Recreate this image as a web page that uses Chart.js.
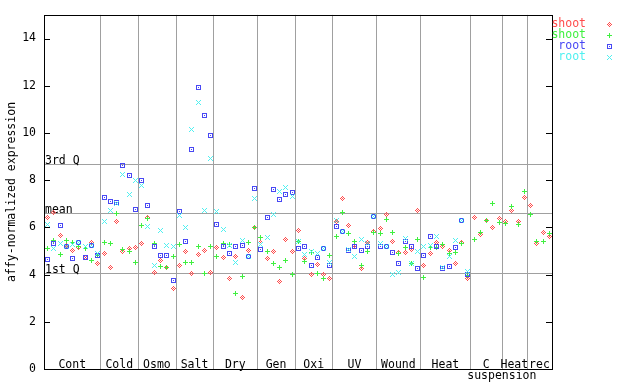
<!DOCTYPE html>
<html>
<head>
<meta charset="utf-8">
<script src="https://cdn.jsdelivr.net/npm/chart.js@4/dist/chart.umd.min.js"></script>
<style>
  html, body { margin:0; padding:0; background:#fff; }
  #wrap { width:640px; height:384px; }
</style>
</head>
<body>
<div id="wrap"><canvas id="c" width="640" height="384"></canvas></div>
<script>
(function () {
  'use strict';
  const FONT = '"DejaVu Sans Mono", monospace';
  const FSIZE = 11.5;

  // x groups (samples per group, left to right)
  const groupNames = ['Cont', 'Cold', 'Osmo', 'Salt', 'Dry', 'Gen', 'Oxi', 'UV', 'Wound', 'Heat', 'C', 'Heat', 'rec'];
  const groupSizes = [9, 6, 6, 6, 7, 6, 6, 7, 7, 8, 5, 4, 4];
  const yTicks = [0, 2, 4, 6, 8, 10, 12, 14];
  const refValues = [8.68, 6.60, 4.07];
  const refLabels = ['3rd Q', 'mean', '1st Q'];
  const seriesNames = ['shoot', 'shoot', 'root', 'root'];
  const seriesColors = ['#ff4c4c', '#40f040', '#4848f4', '#50f0f0'];

  // one value per sample, null = not measured
  const shootA = [
    6.44, 6.63, 5.66, 5.25, 5.03, 5.15, 4.75, 5.39, 4.48,
    4.90, 4.31, 6.25, 5.00, 5.11, 5.15,
    5.34, 6.45, 4.10, 4.62, 4.32, 3.45,
    4.41, 5.00, 4.05, 4.87, 5.04, 4.10,
    5.17, 4.75, 3.86, 4.80, 3.06, 5.05, 6.01,
    5.40, 4.71, 5.00, 3.74, 5.52, 5.00,
    5.89, 4.71, 4.03, 4.45, 4.03, 3.86,
    6.28, 7.23, 6.10, 5.25, 4.29, 5.36, 5.84,
    5.98, 6.56, 5.43, 4.95, 4.97, 5.08, 6.73,
    4.41, 4.93, 5.38, 5.20, 5.04, 4.49, 5.39, 3.86,
    6.45, 5.70, 6.30, 6.02, 6.40,
    6.26, 6.73, 6.28, 7.30,
    6.94, 5.34, 5.80, 5.63
  ];
  const shootB = [
    5.11, 5.48, 4.88, 5.48, 5.36, 5.20, 5.11, 4.60, 4.82,
    5.37, 5.34, 6.60, 5.07, 5.00, 4.54,
    6.08, 6.38, 5.34, 4.38, 4.31, 4.80,
    5.30, 4.55, 4.55, 5.22, 4.07, 5.20,
    4.79, 5.34, 5.30, 3.23, 3.96, 5.38, 6.00,
    5.60, 4.98, 4.49, 4.33, 4.62, 4.03,
    5.44, 4.59, 4.94, 4.07, 3.86, 4.85,
    5.63, 6.63, 5.75, 5.42, 4.41, 5.00, 5.80,
    5.75, 6.35, 5.81, 4.92, 5.18, 4.50, 5.50,
    3.90, 5.15, 5.15, 5.30, 4.90, 4.96, 5.33, 4.00,
    5.51, 5.82, 6.30, 7.02, 6.22,
    6.19, 6.90, 6.13, 7.54,
    6.56, 5.42, 5.42, 5.76
  ];
  const rootA = [
    4.65, 5.32, 6.08, 5.22, 4.71, 5.39, 4.73, 5.27, 4.85,
    7.27, 7.10, 7.08, 8.66, 8.20, 6.76,
    8.00, 6.95, 5.19, 4.81, 4.81, 3.79,
    6.70, 5.42, 9.34, 11.95, 10.77, 9.93,
    6.14, 5.21, 4.92, 5.21, 5.26, 4.80, 7.66,
    5.08, 6.43, 7.61, 7.19, 7.40, 7.50,
    5.13, 5.21, 4.41, 4.73, 5.11, 4.41,
    6.06, 5.85, 5.03, 5.21, 5.04, 5.22, 6.47,
    5.21, 5.22, 4.97, 4.49, 5.43, 5.21, 4.28,
    4.84, 5.63, 5.21, 4.26, 4.37, 5.17, 6.30, 4.03,
    null, null, null, null, null,
    null, null, null, null,
    null, null, null, null
  ];
  const rootB = [
    6.13, 5.13, 5.35, 5.22, 5.30, 5.39, 5.20, 5.27, 4.93,
    6.27, 6.73, 7.05, 8.28, 7.41, 8.00,
    7.78, 6.07, 4.41, 5.90, 5.25, 5.22,
    6.52, 6.03, 10.18, 11.32, 6.73, 8.92,
    6.70, 5.93, 5.26, 4.54, 5.47, 4.80, 7.23,
    5.30, 5.60, 6.56, 7.54, 7.71, 7.33,
    5.44, 4.87, 5.00, 4.90, 5.11, 4.55,
    6.30, 5.85, 5.10, 4.80, 5.50, 5.34, 6.50,
    5.34, 5.22, 4.03, 4.13, 5.55, 4.50, 5.00,
    5.21, 5.25, 5.63, 4.30, 4.80, 5.46, 6.33, 4.17,
    null, null, null, null, null,
    null, null, null, null,
    null, null, null, null
  ];

  // small pixel-art markers, gnuplot style
  const MARKS = [
    ['..#..', '.#.#.', '#.#.#', '.#.#.', '..#..'],   // diamond
    ['..#..', '..#..', '#####', '..#..', '..#..'],   // plus
    ['#####', '#...#', '#.#.#', '#...#', '#####'],   // square with dot
    ['#...#', '.#.#.', '..#..', '.#.#.', '#...#']    // x
  ];
  function makeMarker(rows, color) {
    const c = document.createElement('canvas');
    c.width = rows[0].length; c.height = rows.length;
    const g = c.getContext('2d');
    g.fillStyle = color;
    rows.forEach((r, y) => [...r].forEach((ch, x) => { if (ch === '#') g.fillRect(x, y, 1, 1); }));
    return c;
  }
  const markers = MARKS.map((m, i) => makeMarker(m, seriesColors[i]));
  function stamp(ctx, m, x, y) {
    ctx.drawImage(m, Math.round(x) - Math.floor(m.width / 2), Math.round(y) - Math.floor(m.height / 2));
  }

  const toPoints = arr => arr.map((v, i) => ({ x: i, y: v })).filter(p => p.y != null);
  const allSeries = [shootA, shootB, rootA, rootB];
  const nSamples = groupSizes.reduce((a, b) => a + b, 0);

  const decor = {
    id: 'decor',
    beforeDatasetsDraw(chart) {
      const { ctx, chartArea: a, scales: { x, y } } = chart;
      ctx.save();
      ctx.strokeStyle = '#a0a0a0';
      ctx.lineWidth = 1;
      // group separators
      let acc = 0;
      groupSizes.slice(0, -1).forEach(n => {
        acc += n;
        const px = Math.round(x.getPixelForValue(acc - 0.5)) + 0.5;
        ctx.beginPath(); ctx.moveTo(px, a.top); ctx.lineTo(px, a.bottom); ctx.stroke();
      });
      // quartile / mean lines
      ctx.font = FSIZE + 'px ' + FONT;
      ctx.fillStyle = '#000';
      ctx.textAlign = 'left';
      ctx.textBaseline = 'alphabetic';
      refValues.forEach((v, i) => {
        const py = Math.round(y.getPixelForValue(v)) + 0.5;
        ctx.beginPath(); ctx.moveTo(a.left, py); ctx.lineTo(a.right, py); ctx.stroke();
        ctx.fillText(refLabels[i], a.left + 1, py - 1);
      });
      ctx.restore();
    },
    afterDatasetsDraw(chart) {
      const { ctx, chartArea: a, scales: { x, y } } = chart;
      ctx.save();
      ctx.imageSmoothingEnabled = false;
      // markers at the positions the scatter controller computed
      chart.data.datasets.forEach((ds, i) => {
        chart.getDatasetMeta(i).data.forEach(el => stamp(ctx, markers[i], el.x, el.y));
      });
      ctx.strokeStyle = '#000';
      ctx.lineWidth = 1;
      ctx.strokeRect(Math.round(a.left) + 0.5, Math.round(a.top) + 0.5,
        Math.round(a.right - a.left), Math.round(a.bottom - a.top));
      // inward ticks on both sides
      yTicks.forEach(v => {
        const py = Math.round(y.getPixelForValue(v)) + 0.5;
        ctx.beginPath();
        ctx.moveTo(a.left, py); ctx.lineTo(a.left + 6, py);
        ctx.moveTo(a.right - 6, py); ctx.lineTo(a.right, py);
        ctx.stroke();
      });
      // group names along the bottom
      ctx.font = FSIZE + 'px ' + FONT;
      ctx.fillStyle = '#000';
      ctx.textAlign = 'center';
      ctx.textBaseline = 'alphabetic';
      let start = 0;
      groupNames.forEach((name, i) => {
        const cx = x.getPixelForValue(start + (groupSizes[i] - 1) / 2);
        ctx.fillText(name, cx, a.bottom - 1);
        if (name === 'C') {
          ctx.fillText('suspension', x.getPixelForValue(start + groupSizes[i] - 0.5), a.bottom + 10);
        }
        start += groupSizes[i];
      });
      // legend, outside right
      ctx.textAlign = 'right';
      seriesNames.forEach((name, i) => {
        const by = 27 + i * 11;
        ctx.fillStyle = seriesColors[i];
        ctx.fillText(name, 586, by);
        stamp(ctx, markers[i], 609, by - 3);
      });
      ctx.restore();
    }
  };

  new Chart(document.getElementById('c'), {
    type: 'scatter',
    data: {
      datasets: allSeries.map((s, i) => ({
        label: seriesNames[i],
        data: toPoints(s),
        pointRadius: 0,
        pointHoverRadius: 0
      }))
    },
    options: {
      responsive: false,
      animation: false,
      devicePixelRatio: 1,
      layout: { padding: { left: 0, top: 13, right: 88, bottom: 15 } },
      plugins: { legend: { display: false }, tooltip: { enabled: false } },
      scales: {
        x: { type: 'linear', min: -0.5, max: nSamples - 0.5, display: false },
        y: {
          min: 0, max: 15,
          afterFit: s => { s.width = 44; },
          afterBuildTicks: s => { s.ticks = yTicks.map(v => ({ value: v })); },
          grid: { display: false, drawTicks: false },
          border: { display: false },
          ticks: { padding: 8, color: '#000', font: { family: FONT, size: FSIZE } },
          title: {
            display: true, text: 'affy-normalized expression', color: '#000',
            font: { family: FONT, size: FSIZE }, padding: { top: 5, bottom: 0 }
          }
        }
      }
    },
    plugins: [decor]
  });
})();
</script>
</body>
</html>
